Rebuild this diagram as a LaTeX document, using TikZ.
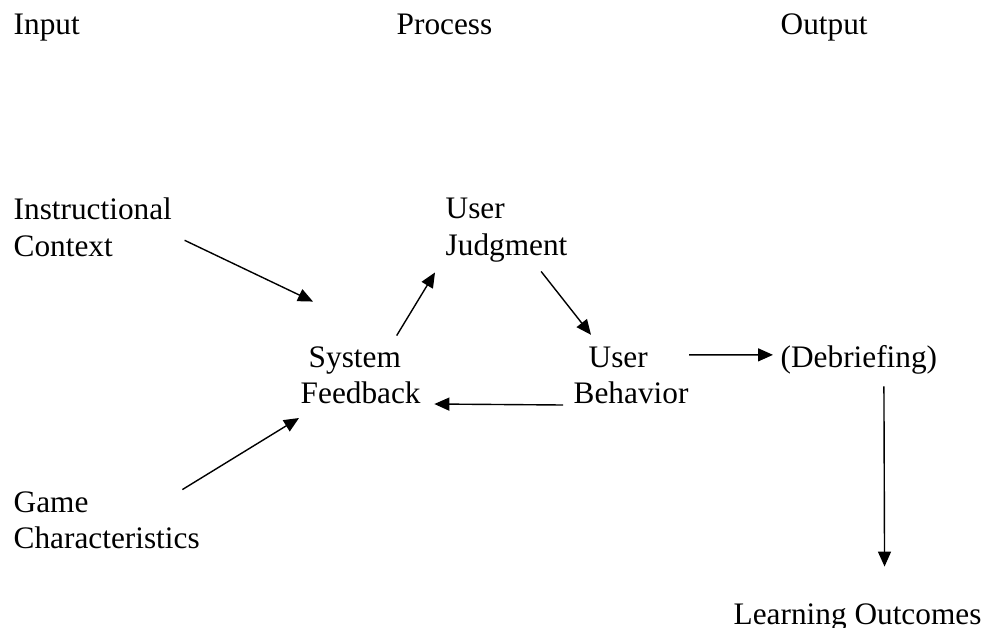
\documentclass[tikz,border=0pt]{standalone}
\usepackage{fontspec}
\setmainfont{Liberation Serif}
\usetikzlibrary{positioning,arrows.meta,calc}
\tikzset{every picture/.style={>={Triangle[length=15pt,width=13pt]},line width=1.4pt}}
\tikzset{lbl/.style={inner sep=0pt,anchor=base west,align=left,font=\fontsize{31.3}{36}\selectfont}}

\begin{document}
\begin{tikzpicture}[x=1pt,y=-1pt]
      \useasboundingbox (0,0) rectangle (987,628);
      % column headings
      \node[lbl] (input) at (13,35) {Input};
      \node[lbl] (process) at (396,35) {Process};
      \node[lbl] (output) at (780,35) {Output};
      % boxes (base = last line)
      \node[lbl] (inst) at (13,256) {Instructional\\Context};
      \node[lbl] (game) at (13,548) {Game\\Characteristics};
      \node[lbl] (judg) at (445,255) {User\\Judgment};
      \node[lbl] (sysfb) at (300,403) {\hspace*{8pt}System\\Feedback};
      \node[lbl] (behav) at (573,403) {\hspace*{15pt}User\\Behavior};
      \node[lbl] (debrief) at (780,367) {(Debriefing)};
      \node[lbl] (learn) at (733,624) {Learning Outcomes};
      % arrows
      \draw[->] ([shift={(12,13)}]inst.east) -- ([shift={(13,-44)}]sysfb.north west);
      \draw[->] ([shift={(-18,-1)}]game.north east) -- ([shift={(-1,14)}]sysfb.south west);
      \draw[->] ([shift={(36,-10)}]sysfb.north) -- ([shift={(-10,10)}]judg.south west);
      \draw[->] ([shift={(-27,9)}]judg.south east) -- ([shift={(18,-11)}]behav.north west);
      \draw[->] ([shift={(-10,1)}]behav.south west) -- ([shift={(13,0)}]sysfb.south east);
      \draw[->] ([shift={(0,-20)}]behav.east) -- ([shift={(-7,-4.5)}]debrief.west);
      \draw[->] ([shift={(25,12)}]debrief.south) -- ([shift={(27,-36)}]learn.north);
\end{tikzpicture}
\end{document}
